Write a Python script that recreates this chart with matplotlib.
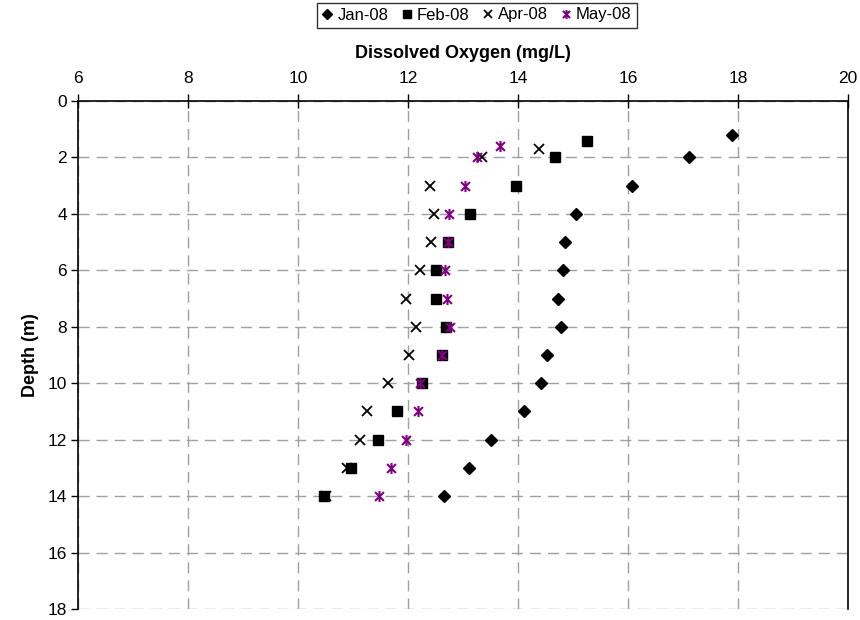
import matplotlib
matplotlib.use("Agg")
import matplotlib.pyplot as plt
from matplotlib.path import Path
import numpy as np

plt.rcParams['font.family'] = ['Liberation Sans', 'DejaVu Sans']

depth_jan = [1.2, 2, 3, 4, 5, 6, 7, 8, 9, 10, 11, 12, 13, 14]
do_jan = [17.89, 17.11, 16.07, 15.06, 14.85, 14.82, 14.72, 14.78, 14.53, 14.42, 14.10, 13.51, 13.11, 12.65]

depth_feb = [1.4, 2, 3, 4, 5, 6, 7, 8, 9, 10, 11, 12, 13, 14]
do_feb = [15.25, 14.67, 13.97, 13.13, 12.73, 12.50, 12.51, 12.69, 12.62, 12.26, 11.80, 11.45, 10.96, 10.48]

depth_apr = [1.7, 2, 3, 4, 5, 6, 7, 8, 9, 10, 11, 12, 13, 14]
do_apr = [14.39, 13.34, 12.40, 12.47, 12.42, 12.22, 11.96, 12.15, 12.02, 11.64, 11.25, 11.12, 10.89, 10.50]

depth_may = [1.6, 2, 3, 4, 5, 6, 7, 8, 9, 10, 11, 12, 13, 14]
do_may = [13.68, 13.26, 13.04, 12.75, 12.73, 12.67, 12.71, 12.77, 12.62, 12.22, 12.19, 11.96, 11.69, 11.47]

labels = ["Jan-08", "Feb-08", "Apr-08", "May-08"]
x_ticks = [6, 8, 10, 12, 14, 16, 18, 20]
y_ticks = [0, 2, 4, 6, 8, 10, 12, 14, 16, 18]

# asterisk marker: X plus vertical line
star = Path([(-1, -1), (1, 1), (-1, 1), (1, -1), (0, -1.25), (0, 1.25)],
            [Path.MOVETO, Path.LINETO, Path.MOVETO, Path.LINETO, Path.MOVETO, Path.LINETO])

fig = plt.figure(figsize=(8.6, 6.2), dpi=100)
ax = fig.add_axes([78/860, 1 - 609/620, (848-78)/860, (609-101)/620])

purple = '#800080'
h1, = ax.plot(do_jan, depth_jan, linestyle='none', marker='D', markersize=5.8, color='black', label=labels[0], clip_on=False)
h2, = ax.plot(do_feb, depth_feb, linestyle='none', marker='s', markersize=7.3, color='black', label=labels[1], clip_on=False)
h3, = ax.plot(do_apr, depth_apr, linestyle='none', marker='x', markersize=7.5, markeredgewidth=1.3, color='black', label=labels[2], clip_on=False)
h4, = ax.plot(do_may, depth_may, linestyle='none', marker=star, markersize=8, markeredgewidth=1.5, color=purple, label=labels[3], clip_on=False)

ax.set_xlim(6, 20)
ax.set_ylim(18, 0)
ax.set_xticks(x_ticks)
ax.set_yticks(y_ticks)
ax.xaxis.tick_top()
ax.xaxis.set_label_position('top')
ax.tick_params(axis='x', direction='inout', length=10, width=1, labelsize=12.5, pad=6)
ax.tick_params(axis='y', direction='out', length=5, width=1, labelsize=12.5, pad=3)
ax.grid(True, color='#a0a0a0', linestyle=(0, (8, 5)), linewidth=1)
ax.set_axisbelow(True)
for s in ['top', 'left', 'right']:
    ax.spines[s].set_color('black')
    ax.spines[s].set_linewidth(1.2)
ax.spines['bottom'].set_visible(False)
ax.set_xlabel('Dissolved Oxygen (mg/L)', fontsize=13, fontweight='bold', labelpad=9)
ax.set_ylabel('Depth (m)', fontsize=13, fontweight='bold', labelpad=6)

leg = fig.legend(handles=[h1, h2, h3, h4], loc='center', bbox_to_anchor=(477/860, 1 - 15/620),
                 ncol=4, frameon=True, fancybox=False, fontsize=12, handlelength=0.6,
                 handletextpad=0.3, columnspacing=0.8, borderpad=0.3, markerscale=0.8)
leg.get_frame().set_edgecolor('black')
leg.get_frame().set_linewidth(1)

fig.savefig('out.png', dpi=100)
